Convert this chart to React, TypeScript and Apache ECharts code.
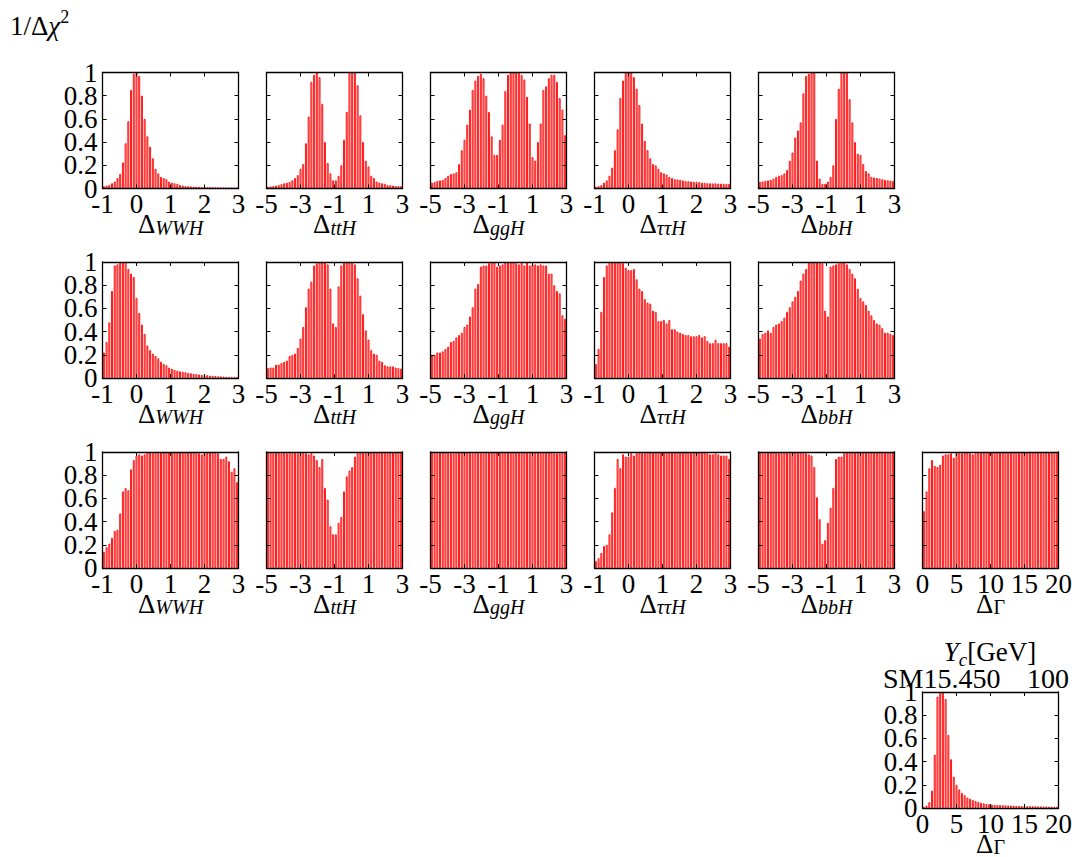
import React, { useEffect, useRef } from "react";
import * as echarts from "echarts";

const FONT = '"Liberation Serif", "DejaVu Serif", serif';
const BINS = 50;

const WWH_TICKS = ["-1", "0", "1", "2", "3"];
const H_TICKS = ["-5", "-3", "-1", "1", "3"];
const GAMMA_TICKS = ["0", "5", "10", "15", "20"];
const Y_TICKS = ["0", "0.2", "0.4", "0.6", "0.8", "1"];

const r1WWH = [0.02,0.025,0.03,0.045,0.06,0.09,0.125,0.225,0.39,0.58,0.85,0.99,1.0,0.97,0.8,0.6,0.45,0.36,0.26,0.17,0.13,0.1,0.09,0.08,0.06,0.05,0.045,0.04,0.03,0.025,0.02,0.02,0.018,0.016,0.015,0.014,0.013,0.012,0.011,0.01,0.01,0.009,0.009,0.008,0.008,0.007,0.007,0.006,0.006,0.005];
const r1TTH = [0.015,0.018,0.02,0.025,0.03,0.037,0.045,0.05,0.057,0.07,0.09,0.115,0.17,0.21,0.39,0.62,0.92,0.98,1.0,0.96,0.73,0.4,0.22,0.13,0.07,0.07,0.11,0.2,0.42,0.66,1.0,1.0,1.0,0.89,0.63,0.4,0.24,0.19,0.11,0.09,0.06,0.05,0.045,0.04,0.03,0.028,0.025,0.022,0.02,0.02];
const r1GGH = [0.05,0.055,0.065,0.07,0.075,0.09,0.11,0.125,0.13,0.14,0.21,0.33,0.42,0.55,0.68,0.85,0.93,0.97,0.99,0.95,0.8,0.66,0.45,0.29,0.29,0.42,0.55,0.84,0.98,1.0,1.0,1.0,1.0,0.98,0.94,0.79,0.56,0.27,0.24,0.4,0.56,0.85,0.88,0.95,0.98,0.98,0.92,0.78,0.68,0.46];
const r1TAU = [0.015,0.02,0.03,0.05,0.07,0.11,0.18,0.33,0.51,0.78,0.93,1.0,1.0,1.0,0.96,0.86,0.72,0.56,0.41,0.33,0.26,0.21,0.2,0.17,0.14,0.13,0.12,0.1,0.09,0.08,0.078,0.075,0.07,0.065,0.063,0.06,0.058,0.057,0.055,0.05,0.048,0.046,0.045,0.044,0.044,0.042,0.042,0.04,0.04,0.04];
const r1BBH = [0.057,0.06,0.065,0.07,0.075,0.085,0.1,0.11,0.115,0.13,0.16,0.24,0.31,0.44,0.5,0.57,0.82,0.97,0.99,1.0,1.0,0.24,0.085,0.04,0.04,0.06,0.1,0.2,0.6,0.86,1.0,1.0,1.0,0.77,0.57,0.4,0.3,0.29,0.21,0.15,0.13,0.1,0.095,0.09,0.085,0.08,0.075,0.07,0.068,0.065];

const r2WWH = [0.22,0.31,0.48,0.75,0.97,0.98,1.0,1.0,1.0,0.94,0.9,0.87,0.69,0.56,0.46,0.38,0.28,0.24,0.21,0.19,0.17,0.14,0.12,0.11,0.09,0.08,0.07,0.063,0.057,0.053,0.05,0.043,0.04,0.037,0.034,0.03,0.027,0.025,0.024,0.02,0.019,0.017,0.015,0.014,0.012,0.011,0.01,0.009,0.007,0.006];
const r2TTH = [0.085,0.09,0.09,0.115,0.115,0.13,0.14,0.15,0.19,0.2,0.21,0.26,0.34,0.44,0.61,0.77,0.83,0.97,0.99,1.0,1.0,1.0,0.98,0.77,0.47,0.44,0.79,0.97,1.0,1.0,1.0,1.0,0.98,0.86,0.71,0.55,0.41,0.33,0.24,0.21,0.2,0.15,0.14,0.11,0.1,0.1,0.1,0.09,0.085,0.08];
const r2GGH = [0.2,0.2,0.22,0.22,0.23,0.25,0.27,0.31,0.32,0.35,0.37,0.39,0.44,0.46,0.53,0.61,0.77,0.81,0.96,0.97,0.97,0.99,1.0,1.0,0.96,0.97,0.98,1.0,1.0,1.0,1.0,0.99,0.98,1.0,0.97,1.0,0.97,0.98,0.98,0.97,0.98,0.97,0.97,0.9,0.9,0.8,0.75,0.73,0.54,0.51];
const r2TAU = [0.12,0.25,0.57,0.87,0.97,1.0,1.0,1.0,1.0,1.0,0.99,0.95,0.93,0.93,0.94,0.85,0.77,0.75,0.68,0.65,0.64,0.58,0.57,0.49,0.49,0.5,0.47,0.5,0.42,0.42,0.4,0.39,0.38,0.37,0.37,0.36,0.36,0.36,0.37,0.35,0.36,0.32,0.3,0.3,0.33,0.3,0.3,0.3,0.3,0.27];
const r2BBH = [0.34,0.38,0.39,0.41,0.39,0.44,0.46,0.47,0.49,0.52,0.57,0.61,0.66,0.7,0.75,0.84,0.9,0.94,1.0,1.0,1.0,1.0,1.0,0.99,0.58,0.53,0.96,0.97,0.98,0.99,1.0,1.0,0.98,0.94,0.9,0.86,0.77,0.69,0.66,0.63,0.58,0.54,0.5,0.47,0.46,0.43,0.39,0.39,0.38,0.37];

const r3WWH = [0.14,0.18,0.21,0.26,0.32,0.33,0.47,0.66,0.69,0.67,0.85,0.93,0.97,0.98,0.97,0.98,1.0,1.0,0.99,1.0,1.0,1.0,1.0,1.0,1.0,1.0,1.0,1.0,1.0,1.0,1.0,1.0,1.0,1.0,1.0,0.99,0.98,0.99,1.0,1.0,1.0,1.0,0.99,0.94,0.94,0.96,0.92,0.83,0.86,0.74];
const r3TTH = [1.0,1.0,0.99,1.0,1.0,0.99,1.0,0.99,1.0,0.99,1.0,0.99,0.99,1.0,0.99,0.98,0.99,0.97,0.93,0.87,0.94,0.69,0.59,0.36,0.29,0.29,0.39,0.44,0.66,0.79,0.84,0.87,0.96,0.99,1.0,1.0,0.99,1.0,1.0,1.0,1.0,1.0,1.0,1.0,1.0,1.0,1.0,1.0,1.0,1.0];
const r3GGH = [1.0,1.0,0.99,1.0,1.0,1.0,1.0,1.0,0.99,1.0,1.0,1.0,1.0,1.0,1.0,0.99,1.0,1.0,0.99,1.0,1.0,1.0,1.0,1.0,1.0,0.99,1.0,1.0,1.0,1.0,1.0,1.0,1.0,1.0,1.0,1.0,1.0,1.0,1.0,1.0,1.0,1.0,1.0,1.0,1.0,0.99,0.99,0.99,1.0,1.0];
const r3TAU = [0.06,0.085,0.13,0.19,0.2,0.29,0.48,0.69,0.94,0.86,0.98,0.96,0.96,0.99,0.97,0.99,1.0,1.0,0.99,1.0,1.0,1.0,1.0,1.0,1.0,1.0,1.0,1.0,1.0,1.0,1.0,1.0,1.0,1.0,1.0,1.0,1.0,1.0,1.0,1.0,1.0,0.99,0.98,0.98,0.99,0.98,0.97,0.97,0.97,0.94];
const r3BBH = [1.0,1.0,0.99,1.0,1.0,1.0,1.0,1.0,0.99,1.0,1.0,0.99,1.0,1.0,1.0,1.0,0.99,0.99,0.98,0.97,0.87,0.61,0.42,0.21,0.24,0.39,0.52,0.69,0.94,0.96,0.96,0.99,1.0,1.0,1.0,1.0,1.0,1.0,1.0,1.0,1.0,1.0,1.0,1.0,1.0,1.0,1.0,1.0,1.0,1.0];
const r3GAM = [0.49,0.66,0.86,0.93,0.88,0.87,0.89,0.97,0.98,0.98,0.99,0.95,0.99,1.0,0.99,1.0,1.0,0.99,0.98,0.99,1.0,1.0,1.0,1.0,1.0,1.0,1.0,1.0,1.0,1.0,1.0,1.0,1.0,1.0,1.0,1.0,1.0,1.0,1.0,1.0,1.0,1.0,1.0,1.0,1.0,1.0,1.0,1.0,1.0,1.0];

const r4GAM = [0.01,0.02,0.05,0.15,0.46,0.96,1.0,1.0,0.94,0.63,0.42,0.27,0.2,0.16,0.13,0.11,0.09,0.08,0.07,0.06,0.052,0.045,0.04,0.035,0.032,0.029,0.027,0.026,0.025,0.024,0.023,0.022,0.021,0.02,0.019,0.018,0.017,0.017,0.016,0.016,0.015,0.015,0.014,0.014,0.013,0.013,0.012,0.012,0.011,0.011];

type Panel = { row: number; col: number; sub: string; italic: boolean; ticks: string[]; vals: number[]; yLabels: boolean };

const PANELS: Panel[] = [
  { row: 0, col: 0, sub: "WWH", italic: true, ticks: WWH_TICKS, vals: r1WWH, yLabels: true },
  { row: 0, col: 1, sub: "ttH", italic: true, ticks: H_TICKS, vals: r1TTH, yLabels: false },
  { row: 0, col: 2, sub: "ggH", italic: true, ticks: H_TICKS, vals: r1GGH, yLabels: false },
  { row: 0, col: 3, sub: "ττH", italic: true, ticks: WWH_TICKS, vals: r1TAU, yLabels: false },
  { row: 0, col: 4, sub: "bbH", italic: true, ticks: H_TICKS, vals: r1BBH, yLabels: false },
  { row: 1, col: 0, sub: "WWH", italic: true, ticks: WWH_TICKS, vals: r2WWH, yLabels: true },
  { row: 1, col: 1, sub: "ttH", italic: true, ticks: H_TICKS, vals: r2TTH, yLabels: false },
  { row: 1, col: 2, sub: "ggH", italic: true, ticks: H_TICKS, vals: r2GGH, yLabels: false },
  { row: 1, col: 3, sub: "ττH", italic: true, ticks: WWH_TICKS, vals: r2TAU, yLabels: false },
  { row: 1, col: 4, sub: "bbH", italic: true, ticks: H_TICKS, vals: r2BBH, yLabels: false },
  { row: 2, col: 0, sub: "WWH", italic: true, ticks: WWH_TICKS, vals: r3WWH, yLabels: true },
  { row: 2, col: 1, sub: "ttH", italic: true, ticks: H_TICKS, vals: r3TTH, yLabels: false },
  { row: 2, col: 2, sub: "ggH", italic: true, ticks: H_TICKS, vals: r3GGH, yLabels: false },
  { row: 2, col: 3, sub: "ττH", italic: true, ticks: WWH_TICKS, vals: r3TAU, yLabels: false },
  { row: 2, col: 4, sub: "bbH", italic: true, ticks: H_TICKS, vals: r3BBH, yLabels: false },
  { row: 2, col: 5, sub: "Γ", italic: false, ticks: GAMMA_TICKS, vals: r3GAM, yLabels: false },
  { row: 3, col: 5, sub: "Γ", italic: false, ticks: GAMMA_TICKS, vals: r4GAM, yLabels: true },
];

const COL_X = [102.5, 266.5, 430.5, 594.5, 758.5, 922.5];
const ROW_Y = [72.5, 262, 452, 692];
const PW = 136;
const PH = 116;

function buildOption() {
  const grid: any[] = [];
  const xAxis: any[] = [];
  const yAxis: any[] = [];
  const series: any[] = [];
  const graphic: any[] = [];
  const step = BINS / 4;

  PANELS.forEach((p, k) => {
    const left = COL_X[p.col];
    const top = ROW_Y[p.row];
    grid.push({ left, top, width: PW, height: PH, containLabel: false });
    const axisLine = { show: true, onZero: false, lineStyle: { color: "#000", width: 1.3 } };
    const axisTick = { show: true, inside: true, length: 4, lineStyle: { color: "#000", width: 1 } };
    const lab = { fontFamily: FONT, fontSize: 27, color: "#000", hideOverlap: false };
    const yIdx = (v: number) => Math.round(v / 0.2);
    xAxis.push({
      gridIndex: k, type: "value", min: 0, max: BINS, interval: step, position: "bottom", z: 5,
      axisLine, axisTick, splitLine: { show: false },
      axisLabel: { ...lab, show: true, showMinLabel: true, showMaxLabel: true, margin: 2, formatter: (v: number) => p.ticks[Math.round(v / step)] },
    });
    xAxis.push({
      gridIndex: k, type: "value", min: 0, max: BINS, interval: step, position: "top", z: 5,
      axisLine, axisTick, splitLine: { show: false }, axisLabel: { show: false },
    });
    // left axis: frame, ticks and labels 0, 0.4, 0.8
    yAxis.push({
      gridIndex: k, type: "value", min: 0, max: 1, interval: 0.2, position: "left", z: 5,
      axisLine, axisTick, splitLine: { show: false },
      axisLabel: {
        ...lab, show: p.yLabels, margin: 5, showMinLabel: true, showMaxLabel: false,
        formatter: (v: number) => (yIdx(v) % 2 === 0 ? Y_TICKS[yIdx(v)] : ""),
      },
    });
    yAxis.push({
      gridIndex: k, type: "value", min: 0, max: 1, interval: 0.2, position: "right", z: 5,
      axisLine, axisTick, splitLine: { show: false }, axisLabel: { show: false },
    });
    // second left axis: labels 0.2, 0.6, 1 only
    yAxis.push({
      gridIndex: k, type: "value", min: 0, max: 1, interval: 0.2, position: "left", z: 5,
      axisLine: { show: false }, axisTick: { show: false }, splitLine: { show: false },
      axisLabel: {
        ...lab, show: p.yLabels, margin: 5, showMinLabel: false, showMaxLabel: true,
        formatter: (v: number) => (yIdx(v) % 2 === 1 ? Y_TICKS[yIdx(v)] : ""),
      },
    });
    series.push({
      type: "bar", xAxisIndex: 2 * k, yAxisIndex: 3 * k,
      data: p.vals.map((v, i) => [i + 0.5, v]),
      barWidth: 1.9,
      itemStyle: { color: "#ffdede", borderColor: "#ff0000", borderWidth: 0.9 },
      silent: true,
    });
    graphic.push({
      type: "text", x: left + PW / 2, y: top + PH + 22,
      style: {
        text: `{d|Δ}{s|${p.sub}}`,
        align: "center", verticalAlign: "top",
        rich: {
          d: { fontFamily: FONT, fontSize: 27, fill: "#000", lineHeight: 27, verticalAlign: "top" },
          s: { fontFamily: FONT, fontSize: 20, fontStyle: p.italic ? "italic" : "normal", fill: "#000", lineHeight: 20, verticalAlign: "bottom" },
        },
        lineHeight: 35,
      },
    });
  });

  graphic.push({
    type: "text", x: 10, y: 8,
    style: {
      text: "{a|1/Δ}{c|χ}{p|2}",
      align: "left", verticalAlign: "top",
      rich: {
        a: { fontFamily: FONT, fontSize: 27, fill: "#000", lineHeight: 31, verticalAlign: "bottom" },
        c: { fontFamily: FONT, fontSize: 27, fontStyle: "italic", fill: "#000", lineHeight: 31, verticalAlign: "bottom" },
        p: { fontFamily: FONT, fontSize: 18, fill: "#000", lineHeight: 18, verticalAlign: "top" },
      },
    },
  });
  graphic.push({
    type: "text", x: 990, y: 638,
    style: {
      text: "{y|Y}{c|c}{g|[GeV]}",
      align: "center", verticalAlign: "top",
      rich: {
        y: { fontFamily: FONT, fontSize: 27, fontStyle: "italic", fill: "#000", lineHeight: 27, verticalAlign: "top" },
        c: { fontFamily: FONT, fontSize: 19, fontStyle: "italic", fill: "#000", lineHeight: 31, verticalAlign: "bottom" },
        g: { fontFamily: FONT, fontSize: 27, fill: "#000", lineHeight: 27, verticalAlign: "top" },
      },
    },
  });
  graphic.push({
    type: "text", x: 883, y: 664,
    style: { text: "SM15.450", fontFamily: FONT, fontSize: 28, fill: "#000", align: "left", verticalAlign: "top" },
  });
  graphic.push({
    type: "text", x: 1027, y: 664,
    style: { text: "100", fontFamily: FONT, fontSize: 28, fill: "#000", align: "left", verticalAlign: "top" },
  });

  return { animation: false, backgroundColor: "#fff", grid, xAxis, yAxis, series, graphic };
}

export default function App() {
  const ref = useRef<HTMLDivElement>(null);
  useEffect(() => {
    if (!ref.current) return;
    const chart = echarts.init(ref.current, undefined, { renderer: "svg" });
    chart.setOption(buildOption() as any);
    return () => chart.dispose();
  }, []);
  return <div ref={ref} style={{ position: "fixed", left: 0, top: 0, width: 1075, height: 857, background: "#fff" }} />;
}
